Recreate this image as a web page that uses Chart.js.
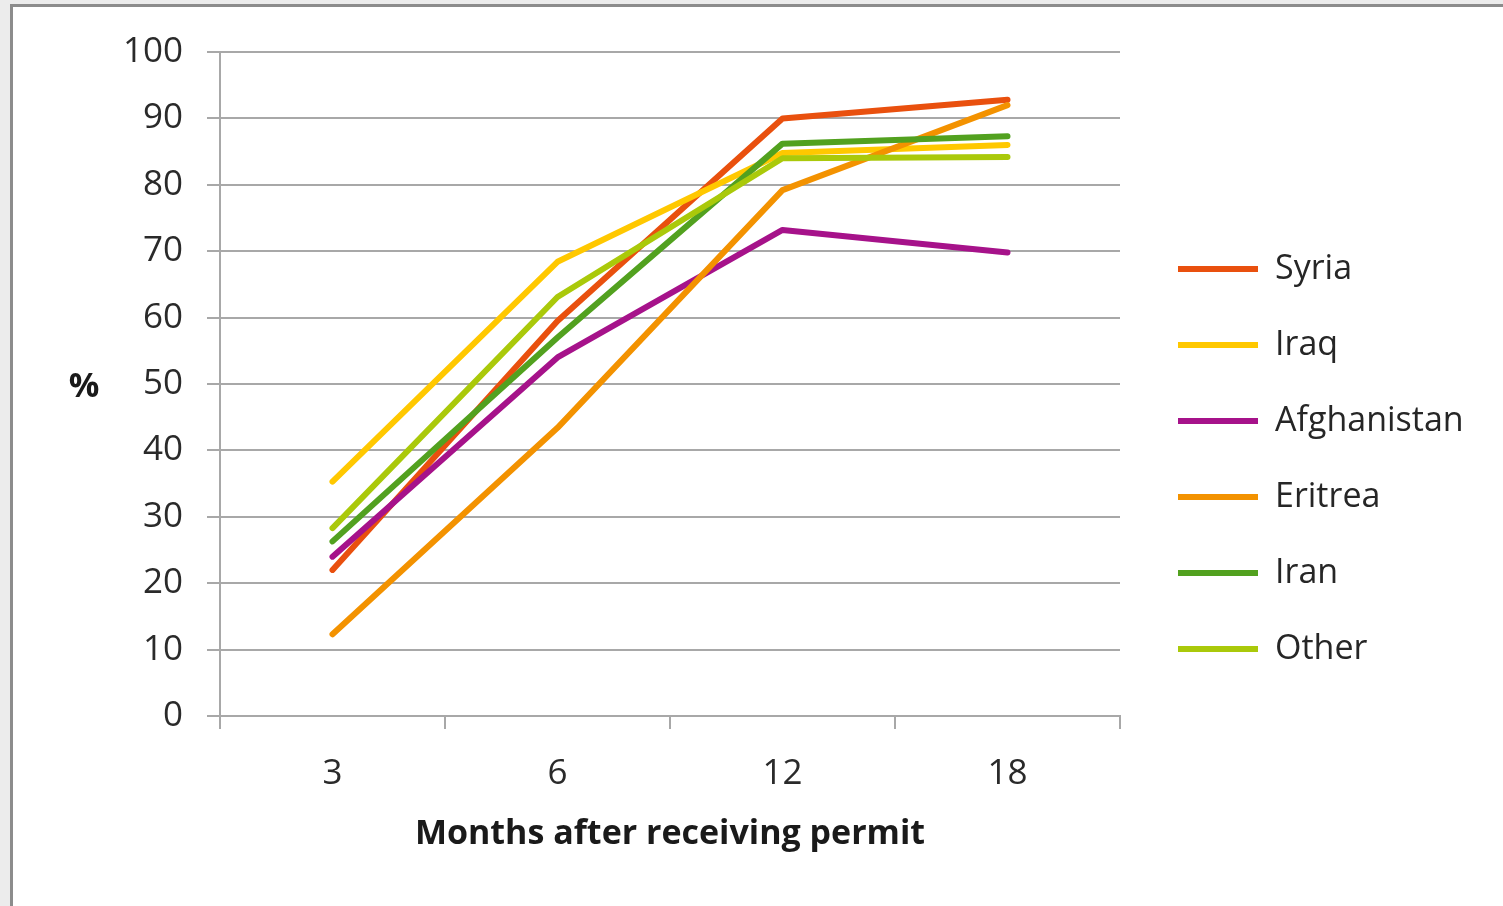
<!DOCTYPE html>
<html>
<head>
<meta charset="utf-8">
<title>Months after receiving permit</title>
<script src="https://cdn.jsdelivr.net/npm/chart.js@4.4.1/dist/chart.umd.min.js"></script>
<style>
    html, body { margin: 0; padding: 0; background: #ececec; overflow: hidden; }
    #frame {
        position: absolute; left: 10px; top: 4px; width: 1700px; height: 1100px;
        background: #fff; border-left: 3px solid #8c8c8c; border-top: 3px solid #8c8c8c;
    }
    #wrap { position: absolute; left: 0; top: 0; width: 1503px; height: 906px; }
</style>
</head>
<body>
<div id="frame"></div>
<div id="wrap"><canvas id="permitChart"></canvas></div>
<script>
// Data
const months = ['3', '6', '12', '18'];
const countries = ['Syria', 'Iraq', 'Afghanistan', 'Eritrea', 'Iran', 'Other'];
const syria = [22, 59.5, 90, 92.8];
const iraq = [35.3, 68.4, 84.8, 86];
const afghanistan = [24, 54, 73.2, 69.8];
const eritrea = [12.3, 43.4, 79.2, 92];
const iran = [26.3, 57, 86.2, 87.3];
const other = [28.3, 63.1, 84, 84.2];
const yTicks = [0, 10, 20, 30, 40, 50, 60, 70, 80, 90, 100];

const seriesValues = [syria, iraq, afghanistan, eritrea, iran, other];
const seriesColors = ['#E9500E', '#FFC800', '#A6128A', '#F39200', '#52A11F', '#AAC90A'];

// Layout numbers
const FONT = "'Open Sans', sans-serif";
const LEGEND_SIZE = 34;
const LEGEND_PAD = 42;
const SWATCH = 80;
const GAP = 16;
const PLOT_LEFT = 220;
const PLOT_RIGHT = 1120;

// Work out the legend width so the plot ends where it should
const measureCtx = document.createElement('canvas').getContext('2d');
measureCtx.font = `${LEGEND_SIZE}px ${FONT}`;
const maxText = Math.max(...countries.map(c => measureCtx.measureText(c).width));
const legendWidth = LEGEND_PAD + SWATCH + LEGEND_SIZE / 2 + maxText + 10;
const padRight = Math.max(0, 1503 - PLOT_RIGHT - GAP - legendWidth);

Chart.defaults.font.family = FONT;
Chart.defaults.color = '#2a2a2a';

// "%" sits horizontally left of the value axis
const percentLabel = {
    id: 'percentLabel',
    afterDraw(chart) {
        const { ctx, chartArea } = chart;
        ctx.save();
        ctx.font = `bold 34px ${FONT}`;
        ctx.fillStyle = '#1a1a1a';
        ctx.textAlign = 'center';
        ctx.textBaseline = 'middle';
        ctx.fillText('%', chartArea.left - 136, (chartArea.top + chartArea.bottom) / 2 + 3);
        ctx.restore();
    }
};

const gridColor = '#a8a8a8';

new Chart(document.getElementById('permitChart'), {
    type: 'line',
    data: {
        labels: months,
        datasets: countries.map((name, i) => ({
            label: name,
            data: seriesValues[i],
            borderColor: seriesColors[i],
            backgroundColor: seriesColors[i],
            borderWidth: 6,
            borderCapStyle: 'round',
            borderJoinStyle: 'round',
            pointRadius: 0,
            pointHoverRadius: 0,
            tension: 0,
            order: countries.length - i // later series on top, like the original
        }))
    },
    options: {
        responsive: true,
        maintainAspectRatio: false,
        animation: false,
        layout: { padding: { left: 0, top: 52, right: padRight, bottom: 40 } },
        plugins: {
            tooltip: { enabled: false },
            legend: {
                position: 'right',
                maxWidth: 600,
                labels: {
                    usePointStyle: true,
                    pointStyle: 'line',
                    pointStyleWidth: SWATCH,
                    padding: LEGEND_PAD,
                    color: '#262626',
                    font: { size: LEGEND_SIZE },
                    sort: (a, b) => a.datasetIndex - b.datasetIndex
                }
            }
        },
        scales: {
            x: {
                offset: true,
                grid: {
                    offset: true,
                    drawOnChartArea: false,
                    drawTicks: true,
                    tickLength: 13,
                    color: gridColor,
                    lineWidth: 2
                },
                border: { display: true, color: gridColor, width: 2 },
                ticks: { padding: 24, font: { size: 35 }, color: '#2a2a2a' },
                title: {
                    display: true,
                    text: 'Months after receiving permit',
                    color: '#1a1a1a',
                    font: { size: 34, weight: 'bold' },
                    padding: { top: 0, bottom: 11 }
                },
                afterFit(scale) {
                    scale.height = 150;
                    scale.paddingLeft = 0;
                    scale.paddingRight = 0;
                }
            },
            y: {
                min: 0,
                max: 100,
                afterBuildTicks(scale) {
                    scale.ticks = yTicks.map(v => ({ value: v }));
                },
                grid: {
                    drawTicks: true,
                    tickLength: 13,
                    color: gridColor,
                    lineWidth: 2
                },
                border: { display: true, color: gridColor, width: 2 },
                ticks: { padding: 24, font: { size: 35 }, color: '#2a2a2a' },
                afterFit(scale) {
                    scale.width = PLOT_LEFT;
                    scale.paddingTop = 0;
                    scale.paddingBottom = 0;
                }
            },
            // empty spacer between the plot and the legend
            gap: {
                type: 'linear',
                position: 'right',
                grid: { display: false },
                border: { display: false },
                ticks: { display: false },
                afterFit(scale) {
                    scale.width = GAP;
                    scale.paddingTop = 0;
                    scale.paddingBottom = 0;
                }
            }
        }
    },
    plugins: [percentLabel]
});
</script>
</body>
</html>
